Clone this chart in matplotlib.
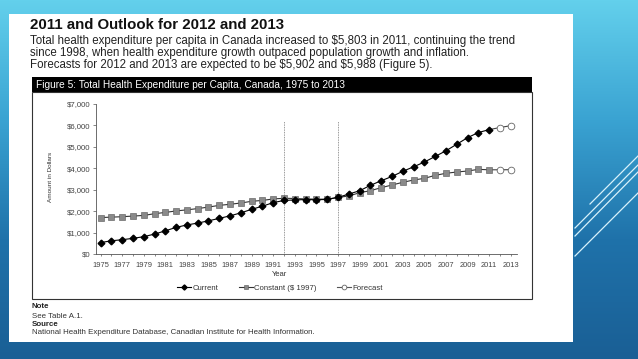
import numpy as np
import matplotlib
matplotlib.use("Agg")
from matplotlib import pyplot as plt
from matplotlib.lines import Line2D
from matplotlib.colors import LinearSegmentedColormap

plt.rcParams['font.family'] = ['Liberation Sans', 'DejaVu Sans']
plt.rcParams['text.parse_math'] = False  # lots of $ signs in the text

# data (per capita, $)
years = list(range(1975, 2012))
current = [532, 616, 667, 730, 808, 929, 1081, 1242, 1356, 1443, 1548, 1663, 1781,
           1920, 2085, 2232, 2398, 2500, 2522, 2542, 2530, 2548, 2642, 2798, 2951,
           3205, 3419, 3619, 3859, 4068, 4292, 4552, 4817, 5122, 5429, 5669, 5803]
constant = [1700, 1720, 1740, 1770, 1800, 1880, 1940, 2010, 2060, 2120, 2190, 2270,
            2320, 2380, 2460, 2500, 2570, 2600, 2590, 2570, 2560, 2560, 2642, 2706,
            2860, 2955, 3095, 3220, 3345, 3453, 3530, 3670, 3766, 3826, 3873, 3950, 3930]
fc_years = [2011, 2012, 2013]
fc_current = [5803, 5902, 5988]
fc_constant = [3930, 3930, 3935]
ytick_vals = [0, 1000, 2000, 3000, 4000, 5000, 6000, 7000]
ytick_labels = ["$0", "$1,000", "$2,000", "$3,000", "$4,000", "$5,000", "$6,000", "$7,000"]
xtick_vals = list(range(1975, 2014, 2))
ref_years = [1992, 1997]

W, H = 638, 359
fig = plt.figure(figsize=(W / 100, H / 100), dpi=100)

# page / slide layer in pixel coords
bg = fig.add_axes([0, 0, 1, 1])
bg.set_xlim(0, W)
bg.set_ylim(H, 0)
bg.axis("off")
cmap = LinearSegmentedColormap.from_list("slide", ["#63d0ec", "#3aa3d2", "#1f72aa", "#1a5f95"])
grad = np.linspace(0, 1, 256).reshape(-1, 1)
bg.imshow(grad, cmap=cmap, extent=[0, W, H, 0], aspect="auto", zorder=0)

# decorative lines on the right
for x0, y0, x1, y1 in [(590, 204, 638, 156), (575, 228, 638, 165), (575, 236, 638, 172),
                       (575, 256, 638, 193)]:
    bg.plot([x0, x1], [y0, y1], color="#d8f2fb", lw=0.9, zorder=1)

bg.add_patch(plt.Rectangle((9, 14), 564, 328, facecolor="white", edgecolor="none", zorder=2))

bg.text(30, 25, "2011 and Outlook for 2012 and 2013", fontsize=10.8, fontweight="bold",
        va="center", ha="left", color="#111111", zorder=3)
para = ["Total health expenditure per capita in Canada increased to $5,803 in 2011, continuing the trend",
        "since 1998, when health expenditure growth outpaced population growth and inflation.",
        "Forecasts for 2012 and 2013 are expected to be $5,902 and $5,988 (Figure 5)."]
bg.text(30, 53, "\n".join(para), fontsize=8.3, linespacing=0.95, va="center", ha="left",
        color="#222222", zorder=3)

bg.add_patch(plt.Rectangle((32, 77), 500, 15, facecolor="black", edgecolor="none", zorder=3))
bg.text(36, 84.5, "Figure 5: Total Health Expenditure per Capita, Canada, 1975 to 2013",
        fontsize=7.3, color="white", va="center", ha="left", zorder=4)
bg.add_patch(plt.Rectangle((32, 92), 500, 207, facecolor="white", edgecolor="#333333",
                           lw=0.8, zorder=3))

bg.text(50, 177, "Amount in Dollars", rotation=90, fontsize=4.6, va="center", ha="center",
        color="#333333", zorder=4)
bg.text(280, 275, "Year", fontsize=5.5, va="center", ha="center", color="#333333", zorder=4)

bg.text(32, 307, "Note", fontsize=5.7, fontweight="bold", va="center", color="#222222", zorder=4)
bg.text(32, 316, "See Table A.1.", fontsize=5.7, va="center", color="#333333", zorder=4)
bg.text(32, 324, "Source", fontsize=5.7, fontweight="bold", va="center", color="#222222", zorder=4)
bg.text(32, 332, "National Health Expenditure Database, Canadian Institute for Health Information.",
        fontsize=5.7, va="center", color="#333333", zorder=4)

# chart axes
x0, x1 = 96, 517
y0, y1 = 254, 104
ax = fig.add_axes([x0 / W, 1 - y0 / H, (x1 - x0) / W, (y0 - y1) / H])
ax.patch.set_alpha(0)
ax.set_xlim(1974.58, 2013.58)
ax.set_ylim(0, 7000)
for s in ["top", "right"]:
    ax.spines[s].set_visible(False)
for s in ["left", "bottom"]:
    ax.spines[s].set_color("#555555")
    ax.spines[s].set_linewidth(0.6)
ax.spines["left"].set_bounds(0, 7000)

ax.set_yticks(ytick_vals)
ax.set_yticklabels(ytick_labels)
ax.set_xticks(xtick_vals)
ax.set_xticks(range(1975, 2014), minor=True)
ax.tick_params(axis="y", labelsize=5.6, labelcolor="#444444", length=2, width=0.5,
               color="#555555", pad=2)
ax.tick_params(axis="x", which="both", labelsize=5.4, labelcolor="#444444", length=1.5,
               width=0.5, color="#555555", pad=4)

for yr in ref_years:
    ax.plot([yr, yr], [0, 6200], color="#777777", lw=0.6, ls=(0, (1, 1)), zorder=1)

ax.plot(fc_years, fc_constant, color="#444444", lw=0.8, zorder=2)
ax.plot(fc_years[1:], fc_constant[1:], ls="none", marker="o", ms=4.8, mfc="white",
        mec="#666666", mew=0.6, zorder=4)
ax.plot(fc_years, fc_current, color="#444444", lw=0.8, zorder=2)
ax.plot(fc_years[1:], fc_current[1:], ls="none", marker="o", ms=4.8, mfc="white",
        mec="#666666", mew=0.6, zorder=4)
ax.plot(years, constant, color="#333333", lw=0.8, marker="s", ms=4.6, mfc="#8a8a8a",
        mec="#555555", mew=0.4, zorder=3)
ax.plot(years, current, color="black", lw=0.8, marker="D", ms=3.4, mfc="black",
        mec="black", zorder=3)

handles = [
    Line2D([], [], color="black", lw=0.8, marker="D", ms=2.6, mfc="black", mec="black"),
    Line2D([], [], color="#333333", lw=0.8, marker="s", ms=3.4, mfc="#8a8a8a", mec="#555555", mew=0.4),
    Line2D([], [], color="#555555", lw=0.8, marker="o", ms=3.4, mfc="white", mec="#666666", mew=0.6),
]
fig.legend(handles, ["Current", "Constant ($ 1997)", "Forecast"], loc="center",
           bbox_to_anchor=(280 / W, 1 - 288 / H), ncol=3, frameon=False, fontsize=5.6,
           handlelength=1.8, handletextpad=0.1, columnspacing=2.7, labelcolor="#333333")

fig.savefig("out.png", dpi=100)
